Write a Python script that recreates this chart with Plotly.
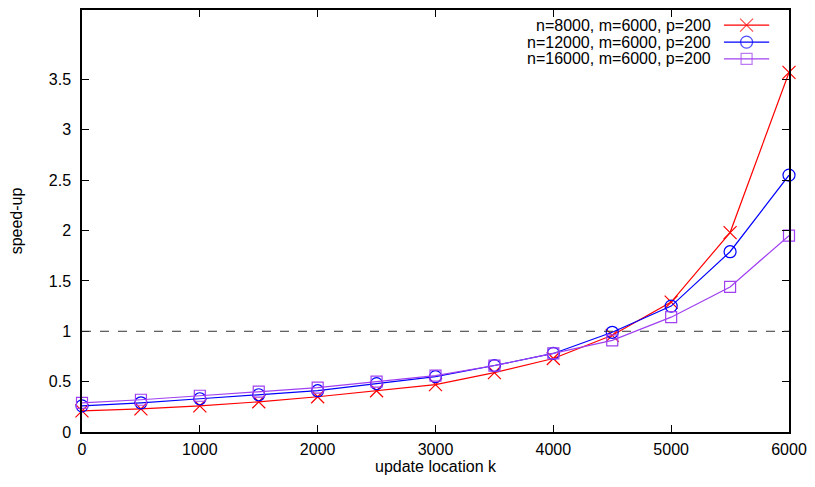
import plotly.graph_objects as go

# ---- data ----
k_values = [0, 500, 1000, 1500, 2000, 2500, 3000, 3500, 4000, 4500, 5000, 5500, 6000]
speedup_n8000 = [0.21, 0.23, 0.26, 0.30, 0.35, 0.41, 0.47, 0.59, 0.73, 0.96, 1.29, 1.98, 3.57]
speedup_n12000 = [0.26, 0.29, 0.33, 0.37, 0.41, 0.48, 0.55, 0.66, 0.78, 0.99, 1.25, 1.79, 2.55]
speedup_n16000 = [0.29, 0.32, 0.36, 0.40, 0.44, 0.50, 0.56, 0.66, 0.78, 0.91, 1.14, 1.44, 1.95]
series_names = ["n=8000, m=6000, p=200", "n=12000, m=6000, p=200", "n=16000, m=6000, p=200"]
x_ticks = [0, 1000, 2000, 3000, 4000, 5000, 6000]
y_ticks = [0, 0.5, 1, 1.5, 2, 2.5, 3, 3.5]
y_tick_labels = ["0", "0.5", "1", "1.5", "2", "2.5", "3", "3.5"]
reference_level = 1.0

colors = ["#ff0000", "#0000ff", "#a040f0"]
symbols = ["x-thin-open", "circle-open", "square-open"]
sizes = [13, 12, 11]
series = [speedup_n8000, speedup_n12000, speedup_n16000]

FONT = "Liberation Sans, Arial, sans-serif"
FS = 16

fig = go.Figure()

for vals, name, c, s, sz in zip(series, series_names, colors, symbols, sizes):
    fig.add_trace(go.Scatter(
        x=k_values, y=vals, mode="lines+markers", name=name,
        line=dict(color=c, width=1.2),
        marker=dict(symbol=s, size=sz, color=c, line=dict(color=c, width=1.2)),
        showlegend=False, cliponaxis=False,
    ))

# reference dashed line at speed-up = 1
fig.add_shape(type="line", xref="x domain", yref="y", x0=0, x1=1,
              y0=reference_level, y1=reference_level,
              line=dict(color="#333333", width=1, dash="dash"))

# custom legend (text right-aligned, sample to the right) on an overlay axis
legend_rows = [0.964, 0.924, 0.884]
for name, c, s, sz, yr in zip(series_names, colors, symbols, sizes, legend_rows):
    fig.add_trace(go.Scatter(
        x=[0.908, 0.940, 0.972], y=[yr, yr, yr], mode="lines+markers",
        xaxis="x2", yaxis="y2", showlegend=False, hoverinfo="skip",
        line=dict(color=c, width=1.2),
        marker=dict(symbol=s, size=[0, sz, 0], color=c, line=dict(color=c, width=1.2)),
        cliponaxis=False,
    ))
    fig.add_annotation(x=0.891, y=yr, xref="paper", yref="paper", text=name,
                       showarrow=False, xanchor="right", yanchor="middle",
                       borderpad=0,
                       font=dict(family=FONT, size=FS, color="black"))

fig.update_layout(
    width=815, height=487,
    margin=dict(l=82, r=25, t=8, b=55),
    paper_bgcolor="white", plot_bgcolor="white",
    font=dict(family=FONT, size=FS, color="black"),
    xaxis=dict(
        range=[0, 6000], tickvals=x_ticks, ticks="inside", ticklen=7,
        tickcolor="black", tickwidth=1, showline=True, linecolor="black",
        linewidth=1.5, mirror="allticks", showgrid=False, zeroline=False,
        title=dict(text="update location k", standoff=4, font=dict(size=FS)),
        tickfont=dict(size=FS), ticklabelstandoff=2,
    ),
    yaxis=dict(
        range=[0, 4.19], tickvals=y_ticks, ticktext=y_tick_labels, ticks="inside",
        ticklen=7, tickcolor="black", tickwidth=1, showline=True, linecolor="black",
        linewidth=1.5, mirror="allticks", showgrid=False, zeroline=False,
        title=dict(text="speed-up", standoff=22, font=dict(size=FS)),
        tickfont=dict(size=FS), ticklabelstandoff=6,
    ),
    xaxis2=dict(overlaying="x", range=[0, 1], visible=False, fixedrange=True),
    yaxis2=dict(overlaying="y", range=[0, 1], visible=False, fixedrange=True),
)

fig.write_html("out.html")
